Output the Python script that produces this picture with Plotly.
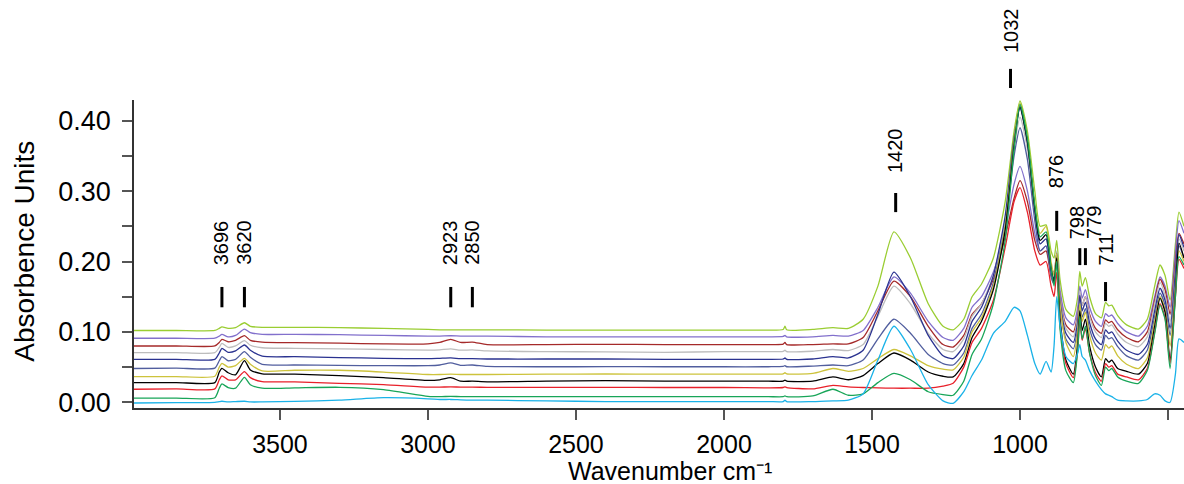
import plotly.graph_objects as go

# Wavenumber grid (cm-1) shared by all spectra
wavenumber = [3993, 3850, 3720, 3705, 3696, 3675, 3650, 3620, 3600, 3560,
              3450, 3300, 3150, 3000, 2960, 2923, 2890, 2850, 2800, 2600,
              2400, 2200, 2000, 1850, 1800, 1794, 1788, 1700, 1632, 1580,
              1530, 1480, 1426, 1370, 1310, 1260, 1226, 1190, 1162, 1130,
              1090, 1050, 1020, 1000, 975, 950, 932, 912, 895, 885,
              876, 865, 845, 820, 805, 798, 790, 779, 765, 745,
              725, 711, 700, 690, 670, 640, 600, 570, 545, 527,
              510, 493, 475, 463, 446]

# Absorbance spectra (top to bottom)
s_yellowgreen = [.102, .102, .102, .105, .107, .105, .106, .113, .108, .1065,
                 .1065, .106, .105, .1035, .103, .103, .103, .103, .103, .1025,
                 .1025, .1025, .1025, .1025, .1035, .108, .103, .1035, .106, .105,
                 .118, .165, .242, .205, .140, .108, .103, .118, .150, .168,
                 .205, .285, .385, .428, .385, .300, .250, .252, .215, .205,
                 .230, .175, .132, .122, .150, .186, .165, .177, .150, .126,
                 .120, .142, .137, .138, .123, .110, .104, .118, .165, .195,
                 .180, .145, .225, .270, .250]
s_purple = [.091, .091, .091, .094, .0965, .093, .095, .104, .099, .0965,
            .0965, .096, .095, .094, .094, .0945, .094, .094, .094, .093,
            .093, .093, .093, .093, .0935, .095, .093, .093, .095, .094,
            .102, .135, .178, .155, .115, .092, .088, .105, .135, .150,
            .185, .245, .310, .335, .300, .240, .215, .222, .190, .185,
            .212, .160, .120, .110, .135, .165, .148, .160, .135, .115,
            .108, .126, .122, .124, .112, .100, .094, .108, .150, .178,
            .165, .135, .215, .258, .240]
s_darkred = [.080, .080, .080, .085, .0895, .086, .088, .0947, .088, .0855,
             .0847, .084, .083, .083, .085, .0895, .085, .0855, .082, .082,
             .0824, .082, .082, .082, .0825, .085, .082, .082, .083, .083,
             .092, .130, .172, .150, .108, .082, .0785, .095, .125, .140,
             .175, .235, .290, .315, .285, .230, .210, .215, .180, .175,
             .205, .150, .110, .100, .125, .155, .138, .150, .125, .105,
             .098, .117, .113, .115, .103, .092, .086, .100, .145, .175,
             .160, .125, .200, .240, .225]
s_grey = [.0705, .0705, .0705, .078, .0838, .078, .080, .0876, .081, .0775,
          .0767, .076, .075, .074, .0745, .076, .074, .0745, .073, .072,
          .0716, .071, .072, .072, .0725, .074, .072, .0725, .075, .0735,
          .082, .122, .165, .140, .098, .075, .072, .090, .122, .140,
          .180, .260, .360, .405, .360, .270, .225, .232, .190, .180,
          .215, .150, .105, .093, .122, .158, .138, .150, .122, .100,
          .092, .112, .108, .110, .097, .085, .079, .093, .140, .170,
          .152, .115, .190, .232, .215]
s_navy = [.061, .061, .061, .070, .0767, .071, .073, .0814, .074, .0655,
          .0648, .0635, .0625, .062, .0625, .063, .062, .062, .0615, .0615,
          .0615, .061, .061, .061, .0615, .063, .061, .0615, .065, .063,
          .074, .125, .185, .150, .095, .066, .062, .080, .115, .135,
          .180, .265, .375, .418, .370, .275, .225, .232, .185, .175,
          .212, .145, .098, .085, .115, .152, .130, .142, .113, .090,
          .082, .103, .098, .100, .087, .074, .068, .082, .130, .162,
          .145, .105, .185, .238, .220]
s_slate = [.048, .0485, .0485, .059, .0649, .059, .061, .072, .064, .054,
           .053, .0525, .052, .052, .053, .056, .0525, .053, .051, .0505,
           .0506, .0505, .0505, .0505, .051, .052, .0505, .0515, .053, .052,
           .060, .090, .118, .098, .068, .055, .053, .070, .105, .125,
           .170, .250, .350, .390, .345, .258, .215, .222, .178, .168,
           .205, .138, .090, .076, .106, .142, .121, .133, .104, .082,
           .074, .095, .090, .092, .079, .066, .060, .074, .122, .155,
           .138, .095, .172, .222, .205]
s_olive = [.0365, .0365, .037, .050, .0554, .050, .052, .0625, .054, .0445,
           .0455, .0455, .043, .0395, .0395, .040, .0395, .0395, .0395, .040,
           .0402, .040, .040, .040, .0405, .042, .0405, .041, .048, .044,
           .048, .062, .075, .066, .052, .047, .046, .064, .100, .120,
           .165, .250, .370, .425, .375, .280, .240, .250, .200, .180,
           .212, .140, .085, .065, .100, .140, .115, .128, .095, .070,
           .060, .082, .077, .080, .066, .054, .048, .063, .115, .150,
           .132, .080, .160, .215, .200]
s_black = [.028, .028, .028, .043, .0483, .042, .039, .0592, .046, .0405,
           .040, .038, .035, .031, .032, .035, .030, .030, .029, .030,
           .0307, .030, .030, .030, .030, .0315, .030, .030, .036, .032,
           .038, .055, .070, .060, .043, .037, .036, .055, .092, .115,
           .160, .245, .365, .420, .370, .275, .230, .238, .190, .170,
           .205, .120, .060, .040, .085, .130, .102, .118, .080, .050,
           .036, .062, .057, .060, .048, .044, .040, .055, .108, .148,
           .128, .060, .155, .226, .205]
s_red = [.0185, .019, .019, .032, .0376, .032, .0318, .0436, .035, .0295,
         .029, .027, .025, .0215, .0215, .022, .0215, .0215, .0213, .0213,
         .0213, .021, .021, .0205, .021, .022, .021, .019, .024, .022,
         .021, .0205, .020, .020, .020, .023, .027, .050, .085, .105,
         .145, .220, .285, .305, .270, .215, .195, .200, .165, .150,
         .185, .110, .055, .035, .075, .118, .088, .105, .070, .042,
         .030, .055, .050, .052, .040, .036, .032, .048, .100, .140,
         .120, .055, .150, .203, .190]
s_green = [.006, .006, .0065, .020, .026, .021, .020, .0355, .025, .020,
           .0205, .0213, .018, .0085, .008, .0085, .008, .008, .008, .008,
           .008, .008, .008, .008, .008, .009, .008, .009, .0185, .010,
           .012, .028, .041, .032, .015, .011, .010, .030, .068, .090,
           .140, .230, .360, .423, .375, .280, .235, .242, .190, .165,
           .200, .105, .045, .028, .075, .122, .090, .108, .070, .038,
           .024, .050, .045, .048, .036, .030, .027, .045, .098, .138,
           .118, .048, .150, .207, .195]
s_cyan = [-.001, -.0005, 0.0, .001, .0015, .0005, .001, .0015, .0005, .0005,
          .0012, .003, .0065, .005, .004, .004, .0035, .003, .003, .002,
          .001, .001, .001, .001, .001, .003, .001, .001, .002, .003,
          .012, .060, .108, .075, .025, .002, -.0015, .015, .038, .060,
          .098, .115, .135, .130, .095, .055, .040, .058, .043, .080,
          .150, .110, .065, .055, .070, .082, .065, .060, .045, .030,
          .018, .012, .010, .008, .003, .002, .002, .004, .012, .010,
          .002, .000, .040, .090, .085]

series = [
    (s_yellowgreen, "#9acd32"),
    (s_purple, "#8270cc"),
    (s_darkred, "#a52a2a"),
    (s_grey, "#bdbdbd"),
    (s_navy, "#2a3290"),
    (s_slate, "#515e9e"),
    (s_olive, "#cdc33c"),
    (s_black, "#000000"),
    (s_red, "#e8202a"),
    (s_green, "#18a558"),
    (s_cyan, "#1ab2e8"),
]

# Band assignments marked above the spectra
band_labels = [3696, 3620, 2923, 2850, 1420, 1032, 876, 798, 779, 711]
# vertical placement of each marker (paper units: bottom, top), its label, and label nudge (px)
band_mark_y = [(0.327, 0.393), (0.327, 0.393), (0.327, 0.393), (0.327, 0.393),
               (0.636, 0.698), (1.039, 1.101), (0.575, 0.640), (0.464, 0.519),
               (0.464, 0.519), (0.347, 0.409)]
band_text_y = [0.458, 0.458, 0.458, 0.458, 0.757, 1.146, 0.708, 0.542, 0.542, 0.455]
band_text_dx = [0, 0, 0, 0, 0, 0, 0, -3, 8, 0]

fig = go.Figure()
for values, color in series:
    fig.add_trace(go.Scatter(
        x=wavenumber, y=values, mode="lines",
        line=dict(color=color, width=1.3, shape="spline", smoothing=0.6),
        showlegend=False, hoverinfo="skip"))

font_family = "Liberation Sans, Arial, sans-serif"

for wn, (y0, y1), ty, dx in zip(band_labels, band_mark_y, band_text_y, band_text_dx):
    fig.add_shape(type="line", xref="x", yref="paper", x0=wn, x1=wn, y0=y0, y1=y1,
                  line=dict(color="black", width=3))
    fig.add_annotation(x=wn, y=ty, xref="x", yref="paper", text=str(wn), showarrow=False,
                       textangle=-90, xanchor="center", yanchor="bottom", xshift=dx,
                       font=dict(family=font_family, size=20, color="black"))

x_ticks = [3500, 3000, 2500, 2000, 1500, 1000, 500]

fig.update_xaxes(range=[3993, 446], tickvals=x_ticks, ticktext=[str(v) for v in x_ticks],
                 showline=True, linecolor="#333333", linewidth=1.5, mirror=False,
                 ticks="outside", ticklen=10, tickwidth=1.5, tickcolor="#555555",
                 showgrid=False, zeroline=False, ticklabelstandoff=3,
                 tickfont=dict(family=font_family, size=25, color="black"))
fig.update_yaxes(range=[-0.0081, 0.4294], tick0=0, dtick=0.1, tickformat=".2f",
                 showline=True, linecolor="#333333", linewidth=1.5,
                 ticks="outside", ticklen=10, tickwidth=1.5, tickcolor="#555555",
                 minor=dict(tick0=0, dtick=0.05, ticks="outside", ticklen=10,
                            tickwidth=1.5, tickcolor="#555555", showgrid=False),
                 showgrid=False, zeroline=False, ticklabelstandoff=6,
                 tickfont=dict(family=font_family, size=27, color="black"))

# Axis titles, placed as free text below / left of the plotting area
fig.add_annotation(x=0.5105, y=-0.2468, xref="paper", yref="paper", showarrow=False,
                   text="Wavenumber cm\u207b\u00b9", xanchor="center", yanchor="bottom",
                   yshift=-3, font=dict(family=font_family, size=25, color="black"))
fig.add_annotation(x=-0.104, y=0.51, xref="paper", yref="paper", showarrow=False,
                   text="Absorbence Units", textangle=-90, xanchor="center", yanchor="middle",
                   font=dict(family=font_family, size=28, color="black"))

fig.update_layout(width=1184, height=484, margin=dict(l=134, r=0, t=100, b=76),
                  paper_bgcolor="white", plot_bgcolor="white")

fig.write_html("out.html")
